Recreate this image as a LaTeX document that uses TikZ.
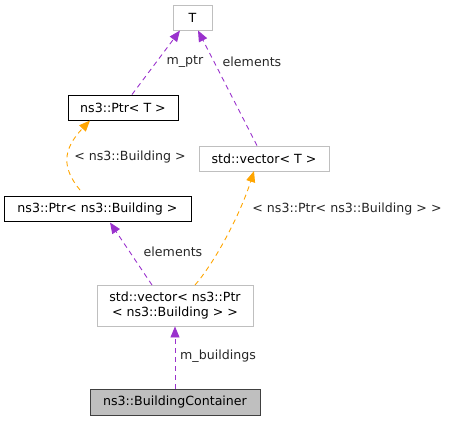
\documentclass[tikz,border=0pt]{standalone}
\usepackage{fontspec}
\setmainfont{DejaVu Sans}
\usetikzlibrary{arrows.meta}
\definecolor{edgepurple}{HTML}{9A32CD}
\definecolor{edgeorange}{HTML}{FFA500}
\definecolor{greyborder}{HTML}{BFBFBF}
\begin{document}
\begin{tikzpicture}[x=1pt,y=-1pt,
  every node/.style={font=\fontsize{12.6}{14.5}\selectfont, inner sep=0pt},
  cls/.style={draw=black, line width=0.9pt, minimum height=25pt, align=center},
  tpl/.style={draw=greyborder, line width=0.9pt, minimum height=25pt, align=center},
  cur/.style={draw=black!75, fill=greyborder, line width=0.9pt, minimum height=26pt},
  rel/.style={edgepurple, dashed, dash pattern=on 5pt off 4pt, line width=0.9pt, -{Triangle[length=11pt,width=9pt]}},
  inst/.style={edgeorange, dashed, dash pattern=on 5pt off 4pt, line width=0.9pt, -{Triangle[length=11pt,width=9pt]}},
  lbl/.style={text=black!85}]
\useasboundingbox (0,0) rectangle (450,421);
\node[tpl, minimum width=39pt] (T) at (192.5,18) {T};
\node[cls, minimum width=110pt] (PtrT) at (123,107.5) {ns3::Ptr< T >};
\node[tpl, minimum width=130pt] (VecT) at (264,158.5) {std::vector< T >};
\node[cls, minimum width=187pt] (PtrB) at (97.5,209) {ns3::Ptr< ns3::Building >};
\node[tpl, minimum width=156pt, minimum height=41pt] (VecB) at (175,305.5) {std::vector< ns3::Ptr\\< ns3::Building > >};
\node[cur, minimum width=170pt] (BC) at (175,402) {ns3::BuildingContainer};

\draw[rel] (PtrT.north) ++(9,0) coordinate (a1) (a1) -- (180,30.5);
\node[lbl] (l1) at (185,62) {m\_ptr};
\draw[rel] (VecT.north) ++(-7,0) coordinate (a2) (a2) -- (198,30.5);
\node[lbl] (l2) at (252,62) {elements};
\draw[inst] (80,190) .. controls (62,168) and (62,150) .. (90,120.5);
\node[lbl] (l3) at (130,157) {< ns3::Building >};
\draw[inst] (195,285) .. controls (215,262) and (240,215) .. (254,171);
\node[lbl] (l4) at (347,209) {< ns3::Ptr< ns3::Building > >};
\draw[rel] (152,285) -- (110,222.5);
\node[lbl] (l5) at (173,252) {elements};
\draw[rel] (BC.north) -- (VecB.south);
\node[lbl] (l6) at (218,356) {m\_buildings};
\end{tikzpicture}
\end{document}
